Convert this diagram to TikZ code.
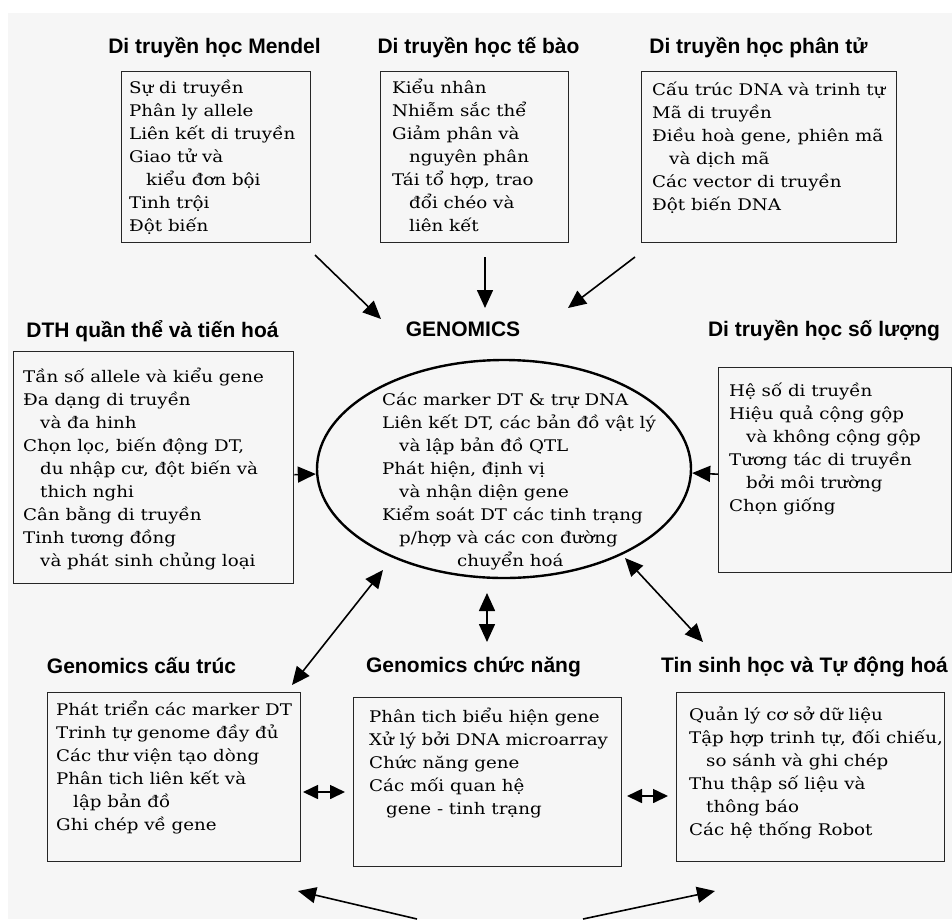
\documentclass[tikz,border=0pt]{standalone}
\usepackage{fontspec}
\setmainfont{DejaVu Serif}[FakeStretch=1.14]
\newfontfamily\ttlfont{Liberation Sans}
\usetikzlibrary{shapes.geometric,arrows.meta}
\definecolor{bgc}{HTML}{F6F6F6}
\newcommand\ind{\hspace*{17pt}}
\newcommand\fl{\rule{0pt}{20pt}}
\newcommand\bodyf{\fontsize{16}{23}\selectfont\lineskiplimit=-30pt\relax}
\newcommand\ttlf{\ttlfont\bfseries\fontsize{21}{24}\selectfont}
\begin{document}
\begin{tikzpicture}[x=1pt,y=-1pt,
  boxst/.style={draw=black!85, line width=1.4pt, anchor=north west, inner sep=0pt, rectangle},
  txt/.style={anchor=north west, align=left, inner sep=0pt, font=\bodyf},
  ttl/.style={anchor=base, inner sep=0pt, font=\ttlf},
  arr/.style={line width=1.6pt, -{Triangle[length=18pt,width=16pt]}},
  darr/.style={line width=1.6pt, {Triangle[length=18pt,width=16pt]}-{Triangle[length=18pt,width=16pt]}},
  sarr/.style={line width=1.6pt, {Triangle[length=15pt,width=14pt]}-{Triangle[length=15pt,width=14pt]}},
]
\fill[white] (0,0) rectangle (952,919);
\fill[bgc] (8,13) rectangle (952,919);
\useasboundingbox (0,0) rectangle (952,919);

% titles
\node[ttl] (t1) at (214.5,53) {Di truyền học Mendel};
\node[ttl] (t2) at (478.5,53) {Di truyền học tế bào};
\node[ttl] (t3) at (758.5,53) {Di truyền học phân tử};
\node[ttl] (t4) at (152.5,337) {DTH quần thể và tiến hoá};
\node[ttl] (t5) at (463,336) {GENOMICS};
\node[ttl] (t6) at (824,336) {Di truyền học số lượng};
\node[ttl] (t7) at (141.5,673) {Genomics cấu trúc};
\node[ttl] (t8) at (473.5,672) {Genomics chức năng};
\node[ttl] (t9) at (804.5,672) {Tin sinh học và Tự động hoá};

% boxes
\node[boxst, minimum width=189pt, minimum height=171pt] (mendel) at (121,71) {};
\node[boxst, minimum width=188pt, minimum height=171pt] (tebao) at (380,71) {};
\node[boxst, minimum width=255pt, minimum height=171pt] (phantu) at (641,71) {};
\node[boxst, minimum width=280pt, minimum height=232pt] (quanthe) at (13,351) {};
\node[boxst, minimum width=233pt, minimum height=205pt] (soluong) at (718,367) {};
\node[boxst, minimum width=253pt, minimum height=169pt] (cautruc) at (47,692) {};
\node[boxst, minimum width=268pt, minimum height=169pt] (chucnang) at (353,697) {};
\node[boxst, minimum width=268pt, minimum height=169pt] (tinsinh) at (676,692) {};
\node[ellipse, draw=black, line width=2.4pt, minimum width=374pt, minimum height=218pt, inner sep=0pt] (genomics) at (504,469) {};

% texts
\node[txt] (x1) at (129,73) {\fl Sự di truyền\\Phân ly allele\\Liên kết di truyền\\Giao tử và\\\ind kiểu đơn bội\\Tinh trội\\Đột biến};
\node[txt] (x2) at (392,73) {\fl Kiểu nhân\\Nhiễm sắc thể\\Giảm phân và\\\ind nguyên phân\\Tái tổ hợp, trao\\\ind đổi chéo và\\\ind liên kết};
\node[txt] (x3) at (652,75) {\fl Cấu trúc DNA và trinh tự\\Mã di truyền\\Điều hoà gene, phiên mã\\\ind và dịch mã\\Các vector di truyền\\Đột biến DNA};
\node[txt] (x4) at (23,362) {\fl Tần số allele và kiểu gene\\Đa dạng di truyền\\\ind và đa hinh\\Chọn lọc, biến động DT,\\\ind du nhập cư, đột biến và\\\ind thich nghi\\Cân bằng di truyền\\Tinh tương đồng\\\ind và phát sinh chủng loại};
\node[txt] (x5) at (382,385) {\fl Các marker DT \& trự DNA\\Liên kết DT, các bản đồ vật lý\\\ind và lập bản đồ QTL\\Phát hiện, định vị\\\ind và nhận diện gene\\Kiểm soát DT các tinh trạng\\\ind p/hợp và các con đường\\\hspace*{75pt}chuyển hoá};
\node[txt] (x6) at (729,376) {\fl Hệ số di truyền\\Hiệu quả cộng gộp\\\ind và không cộng gộp\\Tương tác di truyền\\\ind bởi môi trường\\Chọn giống};
\node[txt] (x7) at (56,695) {\fl Phát triển các marker DT\\Trinh tự genome đầy đủ\\Các thư viện tạo dòng\\Phân tich liên kết và\\\ind lập bản đồ\\Ghi chép về gene};
\node[txt] (x8) at (369,702) {\fl Phân tich biểu hiện gene\\Xử lý bởi DNA microarray\\Chức năng gene\\Các mối quan hệ\\\ind gene - tinh trạng};
\node[txt] (x9) at (689,700) {\fl Quản lý cơ sở dữ liệu\\Tập hợp trinh tự, đối chiếu,\\\ind so sánh và ghi chép\\Thu thập số liệu và\\\ind thông báo\\Các hệ thống Robot};

% arrow end points
\coordinate (m1) at (315,255); \coordinate (m2) at (381,319);
\coordinate (c1) at (485,257); \coordinate (c2) at (485,308);
\coordinate (p1) at (635,257); \coordinate (p2) at (568,308);
\coordinate (l1) at (383,570); \coordinate (l2) at (292,685);
\coordinate (v1) at (487,593); \coordinate (v2) at (487,642);
\coordinate (r1) at (625,558); \coordinate (r2) at (703,642);
\coordinate (h1) at (303,792); \coordinate (h2) at (345,792);
\coordinate (h3) at (627,796); \coordinate (h4) at (668,796);
\coordinate (b1) at (417,919); \coordinate (b2) at (298,891);
\coordinate (b3) at (583,919); \coordinate (b4) at (715,891);

\draw[arr] (m1) -- (m2);
\draw[arr] (c1) -- (c2);
\draw[arr] (p1) -- (p2);
\draw[arr] ([yshift=-7pt]quanthe.east) -- ([yshift=-5pt]genomics.west);
\draw[arr] ([yshift=-4pt]soluong.west) -- ([yshift=-4pt]genomics.east);
\draw[darr] (l1) -- (l2);
\draw[darr] (v1) -- (v2);
\draw[darr] (r1) -- (r2);
\draw[sarr] (h1) -- (h2);
\draw[sarr] (h3) -- (h4);
\draw[arr] (b1) -- (b2);
\draw[arr] (b3) -- (b4);
\end{tikzpicture}
\end{document}
